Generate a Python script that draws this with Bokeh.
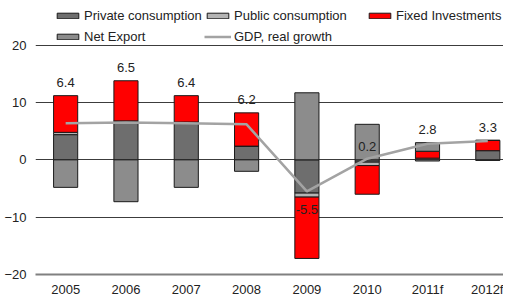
import numpy as np
from bokeh.plotting import figure
from bokeh.models import (ColumnDataSource, Range1d, FixedTicker, Legend, LegendItem)
from bokeh.core.properties import value
from bokeh.embed import file_html
from bokeh.resources import INLINE

years = ["2005", "2006", "2007", "2008", "2009", "2010", "2011f", "2012f"]
private_consumption = [4.4, 6.8, 6.6, 2.4, -5.8, -0.4, 0.3, 1.6]
public_consumption = [0.4, 0.0, 0.0, 0.0, -0.7, -0.6, -0.2, -0.1]
fixed_investments = [6.4, 7.0, 4.6, 5.8, -10.7, -5.0, 1.2, 1.8]
net_export = [-4.8, -7.3, -4.8, -2.0, 11.7, 6.2, 1.5, 0.0]
gdp_growth = [6.4, 6.5, 6.4, 6.2, -5.5, 0.2, 2.8, 3.3]
y_ticks = [-20, -10, 0, 10, 20]

series = [
    ("Private consumption", private_consumption, "#6e6e6e"),
    ("Public consumption", public_consumption, "#b4b4b4"),
    ("Fixed Investments", fixed_investments, "#ff0000"),
    ("Net Export", net_export, "#8c8c8c"),
]

FONT = "Liberation Sans"
xs = np.arange(len(years))

p = figure(width=503, height=299, output_backend="svg", toolbar_location=None,
           min_border_top=0, min_border_left=35, min_border_right=0, min_border_bottom=20)
p.x_range = Range1d(-0.5, 7.26)
p.y_range = Range1d(-20, 27.8)
p.outline_line_color = None
p.background_fill_color = "white"
p.border_fill_color = "white"

pos_base = np.zeros(len(years))
neg_base = np.zeros(len(years))
renderers = {}
for name, vals, color in series:
    v = np.array(vals, dtype=float)
    bottom = np.where(v >= 0, pos_base, neg_base)
    top = bottom + v
    pos_base = np.where(v >= 0, top, pos_base)
    neg_base = np.where(v < 0, top, neg_base)
    src = ColumnDataSource(dict(x=xs, bottom=bottom, top=top))
    r = p.vbar(x="x", bottom="bottom", top="top", width=0.4, source=src,
               fill_color=color, line_color="#1a1a1a", line_width=1)
    renderers[name] = r

gdp_r = p.line(xs, gdp_growth, line_color="#a3a3a3", line_width=2.5)

gdp = np.array(gdp_growth)
anchor = np.where(gdp >= 1, pos_base, gdp)
offs = np.where(gdp >= 1, -13, np.where(gdp < 0, 18, -12))
lab_src = ColumnDataSource(dict(x=xs, y=anchor, off=offs,
                                t=[f"{g:.1f}" for g in gdp_growth]))
p.text(x="x", y="y", text="t", y_offset="off", source=lab_src,
       text_align="center", text_baseline="middle",
       text_font=value(FONT), text_font_size="13px", text_color="#222222")

# axes
p.xaxis.ticker = FixedTicker(ticks=list(xs))
p.xaxis.major_label_overrides = {int(i): y for i, y in zip(xs, years)}
p.xaxis.axis_line_color = "#808080"
p.xaxis.axis_line_width = 2
p.xaxis.major_tick_line_color = None
p.xaxis.minor_tick_line_color = None
p.xaxis.major_tick_out = 0
p.xaxis.major_tick_in = 0
p.xaxis.minor_tick_out = 0
p.xaxis.major_label_standoff = 7
p.yaxis.ticker = FixedTicker(ticks=y_ticks)
p.yaxis.axis_line_color = None
p.yaxis.major_tick_line_color = None
p.yaxis.minor_tick_line_color = None
p.yaxis.major_tick_out = 0
p.yaxis.major_tick_in = 0
p.yaxis.minor_tick_out = 0
p.yaxis.major_label_standoff = 9
for ax in (p.xaxis, p.yaxis):
    ax.major_label_text_font = FONT
    ax.major_label_text_font_size = "13px"
    ax.major_label_text_color = "#222222"
p.xgrid.grid_line_color = None
p.ygrid.ticker = FixedTicker(ticks=y_ticks)
p.ygrid.grid_line_color = "#3c3c3c"
p.ygrid.grid_line_width = 1


def make_legend(entries, loc):
    lg = Legend(items=[LegendItem(label=lbl, renderers=[r]) for lbl, r in entries],
                location=loc, orientation="vertical")
    lg.label_text_font = FONT
    lg.label_text_font_size = "13px"
    lg.label_text_color = "#222222"
    lg.glyph_width = 27
    lg.glyph_height = 7
    lg.label_standoff = 3
    lg.spacing = 6
    lg.padding = 0
    lg.margin = 0
    lg.border_line_color = None
    lg.background_fill_alpha = 0
    lg.label_height = 15
    p.add_layout(lg)


make_legend([("Private consumption", renderers["Private consumption"]),
             ("Net Export", renderers["Net Export"])], (19, 230))
make_legend([("Public consumption", renderers["Public consumption"]),
             ("GDP, real growth", gdp_r)], (169, 230))
make_legend([("Fixed Investments", renderers["Fixed Investments"])], (331, 251))

open("out.html", "w").write(file_html(p, INLINE))
